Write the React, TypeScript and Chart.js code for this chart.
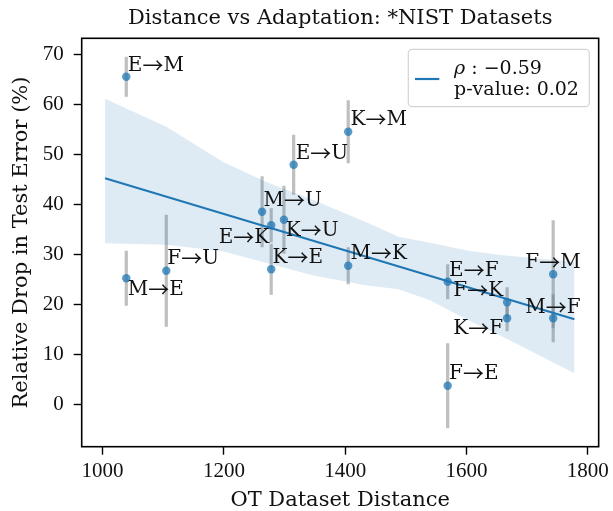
import React, { useEffect, useRef } from "react";
import { Chart, registerables } from "chart.js";

Chart.register(...registerables);

// ---- data ----
const pairNames = ["E→M", "M→E", "F→U", "K→E", "E→K", "M→U", "K→U", "E→U", "K→M", "M→K", "E→F", "F→E", "F→K", "K→F", "F→M", "M→F"];
const otDistance = [1039, 1039, 1105, 1278, 1278, 1263, 1299, 1315, 1405, 1405, 1569, 1569, 1667, 1667, 1743, 1743];
const relativeDrop = [65.5, 25.2, 26.7, 27.0, 35.8, 38.5, 36.9, 47.9, 54.5, 27.7, 24.5, 3.7, 20.4, 17.2, 26.0, 17.2];
const dropError = [4.0, 5.5, 11.2, 5.1, 3.4, 7.1, 6.8, 6.0, 6.3, 3.7, 3.5, 8.5, 3.0, 2.6, 10.8, 4.8];

// annotation anchors (data units): text left (or right) edge and vertical centre
const labelX = [1041.5, 1041.5, 1106.7, 1280.1, 1274.7, 1265.3, 1302.1, 1318.5, 1408.8, 1408.8, 1571.3, 1571.3, 1578.4, 1578.4, 1697.1, 1697.1];
const labelY = [67.9, 23.0, 29.2, 29.5, 33.5, 40.9, 34.9, 50.2, 57.0, 30.2, 26.9, 6.2, 22.9, 15.2, 28.5, 19.5];
const labelAlign = ["left", "left", "left", "left", "right", "left", "left", "left", "left", "left", "left", "left", "left", "left", "left", "left"];

// regression fit and its confidence band
const fitX = [1004, 1778];
const fitY = [45.2, 17.0];
const bandX = [1004, 1105, 1198, 1269, 1346, 1433, 1488, 1540, 1603, 1660, 1778];
const bandUpper = [61.1, 55.5, 48.5, 44.5, 40.9, 36.5, 33.5, 32.3, 30.7, 29.8, 28.5];
const bandLower = [32.2, 31.9, 30.6, 28.3, 25.8, 23.8, 23.0, 20.8, 16.8, 13.5, 6.2];

const xTicks = [1000, 1200, 1400, 1600, 1800];
const yTicks = [0, 10, 20, 30, 40, 50, 60, 70];

const legendLines = ["ρ", " : −0.59", "p-value: 0.02"];
const titleText = "Distance vs Adaptation: *NIST Datasets";
const xTitle = "OT Dataset Distance";
const yTitle = "Relative Drop in Test Error (%)";

const FONT = "'DejaVu Serif', 'Liberation Serif', serif";
const ARROW_FONT = "'Noto Sans CJK JP', 'DejaVu Serif', serif";
const TICK_FONT = "'Liberation Serif', 'DejaVu Serif', serif";
const BLUE = "#1f77b4";

function drawPairLabel(ctx: CanvasRenderingContext2D, text: string, x: number, y: number, align: string) {
  const parts = text.split("→");
  const mainFont = `20px ${FONT}`;
  const arrowFont = `21px ${ARROW_FONT}`;
  ctx.font = mainFont;
  const wa = ctx.measureText(parts[0]).width;
  const wb = ctx.measureText(parts[1]).width;
  ctx.font = arrowFont;
  const warr = ctx.measureText("→").width;
  const total = wa + warr + wb;
  let sx = align === "right" ? x - total : x;
  ctx.textAlign = "left";
  ctx.font = mainFont;
  ctx.fillText(parts[0], sx, y);
  ctx.font = arrowFont;
  ctx.fillText("→", sx + wa, y - 1);
  ctx.font = mainFont;
  ctx.fillText(parts[1], sx + wa + warr, y);
}

const decorPlugin = {
  id: "decor",
  beforeDatasetsDraw(chart: any) {
    const { ctx, scales } = chart;
    const xs = scales.x, ys = scales.y;
    ctx.save();
    ctx.strokeStyle = "rgba(128,128,128,0.5)";
    ctx.lineWidth = 3.2;
    ctx.lineCap = "butt";
    for (let i = 0; i < otDistance.length; i++) {
      const px = xs.getPixelForValue(otDistance[i]);
      ctx.beginPath();
      ctx.moveTo(px, ys.getPixelForValue(relativeDrop[i] + dropError[i]));
      ctx.lineTo(px, ys.getPixelForValue(relativeDrop[i] - dropError[i]));
      ctx.stroke();
    }
    ctx.restore();
  },
  afterDraw(chart: any) {
    const { ctx, scales, chartArea } = chart;
    const xs = scales.x, ys = scales.y;
    ctx.save();
    // frame
    ctx.strokeStyle = "#000";
    ctx.lineWidth = 1.6;
    ctx.strokeRect(chartArea.left, chartArea.top, chartArea.right - chartArea.left, chartArea.bottom - chartArea.top);

    // annotations
    ctx.fillStyle = "#111";
    ctx.textBaseline = "middle";
    for (let i = 0; i < pairNames.length; i++) {
      drawPairLabel(ctx, pairNames[i], xs.getPixelForValue(labelX[i]), ys.getPixelForValue(labelY[i]) + 1, labelAlign[i]);
    }

    // legend
    const lx = 408.3, ly = 49.3, lw = 181, lh = 57.4, r = 4;
    ctx.beginPath();
    ctx.moveTo(lx + r, ly);
    ctx.arcTo(lx + lw, ly, lx + lw, ly + lh, r);
    ctx.arcTo(lx + lw, ly + lh, lx, ly + lh, r);
    ctx.arcTo(lx, ly + lh, lx, ly, r);
    ctx.arcTo(lx, ly, lx + lw, ly, r);
    ctx.closePath();
    ctx.fillStyle = "rgba(255,255,255,0.8)";
    ctx.fill();
    ctx.strokeStyle = "#d4d4d4";
    ctx.lineWidth = 1.2;
    ctx.stroke();
    ctx.strokeStyle = BLUE;
    ctx.lineWidth = 2.2;
    ctx.beginPath();
    ctx.moveTo(415, 79);
    ctx.lineTo(439.3, 79);
    ctx.stroke();
    ctx.fillStyle = "#111";
    ctx.textAlign = "left";
    ctx.textBaseline = "alphabetic";
    ctx.font = `italic 19px ${FONT}`;
    ctx.fillText(legendLines[0], 454, 74);
    const rw = ctx.measureText(legendLines[0]).width;
    ctx.font = `19px ${FONT}`;
    ctx.fillText(legendLines[1], 454 + rw, 74);
    ctx.fillText(legendLines[2], 454, 95);

    // title and axis titles
    const cx = (chartArea.left + chartArea.right) / 2;
    const cy = (chartArea.top + chartArea.bottom) / 2;
    ctx.textAlign = "center";
    ctx.font = `21px ${FONT}`;
    ctx.fillText(titleText, cx, 23.5);
    ctx.fillText(xTitle, cx, 506);
    ctx.translate(26.5, cy);
    ctx.rotate(-Math.PI / 2);
    ctx.fillText(yTitle, 0, 0);
    ctx.restore();
  },
};

export default function App() {
  const canvasRef = useRef<HTMLCanvasElement | null>(null);
  useEffect(() => {
    document.body.style.margin = "0";
    const canvas = canvasRef.current!;
    const chart = new Chart(canvas, {
      type: "scatter",
      data: {
        datasets: [
          {
            type: "scatter",
            label: "points",
            data: otDistance.map((x, i) => ({ x, y: relativeDrop[i] })),
            backgroundColor: "rgba(31,119,180,0.75)",
            borderWidth: 0,
            pointRadius: 4.2,
            order: 0,
          } as any,
          {
            type: "line",
            label: "fit",
            data: fitX.map((x, i) => ({ x, y: fitY[i] })),
            borderColor: BLUE,
            borderWidth: 2.2,
            pointRadius: 0,
            fill: false,
            order: 1,
          },
          {
            type: "line",
            label: "upper",
            data: bandX.map((x, i) => ({ x, y: bandUpper[i] })),
            borderWidth: 0,
            borderColor: "rgba(0,0,0,0)",
            backgroundColor: "rgba(31,119,180,0.15)",
            pointRadius: 0,
            fill: "+1",
            order: 2,
          },
          {
            type: "line",
            label: "lower",
            data: bandX.map((x, i) => ({ x, y: bandLower[i] })),
            borderWidth: 0,
            borderColor: "rgba(0,0,0,0)",
            pointRadius: 0,
            fill: false,
            order: 3,
          },
        ],
      },
      options: {
        animation: false,
        responsive: false,
        events: [],
        layout: { padding: { left: 0, top: 38.3, right: 12, bottom: 0 } },
        plugins: { legend: { display: false }, tooltip: { enabled: false }, title: { display: false } },
        scales: {
          x: {
            type: "linear",
            min: 965.5,
            max: 1818,
            afterBuildTicks: (s: any) => { s.ticks = xTicks.map((v) => ({ value: v })); },
            afterFit: (s: any) => { s.height = 64.3; },
            ticks: { color: "#111", font: { family: TICK_FONT, size: 21 }, padding: 4, maxRotation: 0, callback: (v: any) => String(v) },
            grid: { display: true, drawOnChartArea: false, drawTicks: true, tickLength: 8, tickWidth: 1.4, tickColor: "#000" },
            border: { display: false },
          },
          y: {
            type: "linear",
            min: -8.5,
            max: 73.2,
            afterBuildTicks: (s: any) => { s.ticks = yTicks.map((v) => ({ value: v })); },
            afterFit: (s: any) => { s.width = 81.7; },
            ticks: { color: "#111", font: { family: TICK_FONT, size: 21 }, padding: 10, callback: (v: any) => String(v) },
            grid: { display: true, drawOnChartArea: false, drawTicks: true, tickLength: 8, tickWidth: 1.4, tickColor: "#000" },
            border: { display: false },
          },
        },
      },
      plugins: [decorPlugin],
    });
    return () => chart.destroy();
  }, []);
  return <canvas ref={canvasRef} width={613} height={511} style={{ display: "block" }} />;
}
